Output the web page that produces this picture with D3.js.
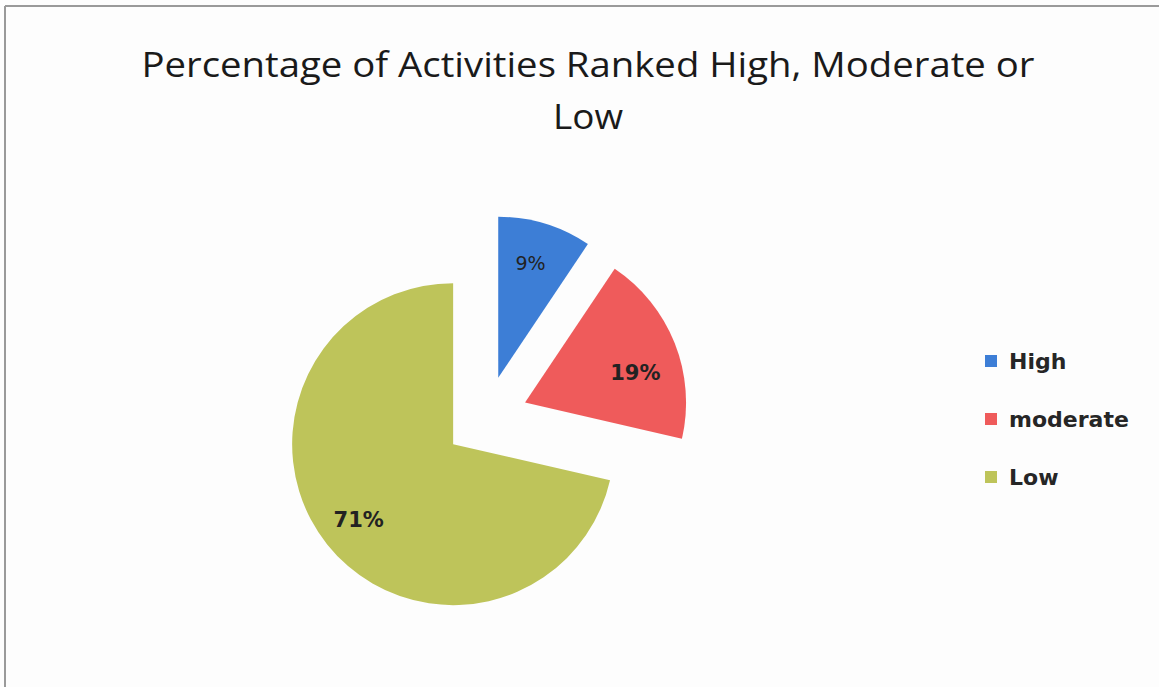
<!DOCTYPE html>
<html>
<head>
<meta charset="utf-8">
<script src="https://cdn.jsdelivr.net/npm/d3@7"></script>
<style>
  html, body { margin: 0; padding: 0; background: #fdfdfd; }
  svg { display: block; }
</style>
</head>
<body>
<svg id="chart" width="1159" height="687"></svg>
<script>
const categories = ["High", "moderate", "Low"];
const values = [9.4, 19.2, 71.4];
const colors = ["#3d7ed6", "#ef5b5b", "#bec45a"];
const titleLines = ["Percentage of Activities Ranked High, Moderate or", "Low"];

const svg = d3.select("#chart");
const W = 1159, H = 687;

// frame (scanned border on left and top)
svg.append("rect").attr("x", 0).attr("y", 0).attr("width", W).attr("height", H).attr("fill", "#fdfdfd");
svg.append("line").attr("x1", 5).attr("y1", 6).attr("x2", W).attr("y2", 6).attr("stroke", "#9a9a9a").attr("stroke-width", 2);
svg.append("line").attr("x1", 5).attr("y1", 6).attr("x2", 5).attr("y2", H).attr("stroke", "#9a9a9a").attr("stroke-width", 2);

// title
const title = svg.append("g").attr("font-family", "'Open Sans', 'Liberation Sans', sans-serif")
  .attr("font-weight", 500).attr("fill", "#1a1a1a");
title.append("text").attr("x", 588).attr("y", 77).attr("text-anchor", "middle")
  .attr("font-size", 35).attr("textLength", 893).attr("lengthAdjust", "spacingAndGlyphs")
  .text(titleLines[0]);
title.append("text").attr("x", 588).attr("y", 129).attr("text-anchor", "middle")
  .attr("font-size", 35).attr("textLength", 70).attr("lengthAdjust", "spacingAndGlyphs")
  .text(titleLines[1]);

// pie
const cx = 486, cy = 418, R = 161, explode = 42;
const pie = d3.pie().sort(null).value(d => d)(values);
const arc = d3.arc().innerRadius(0).outerRadius(R);
const g = svg.append("g").attr("transform", `translate(${cx},${cy})`);

const slices = g.selectAll("g.slice").data(pie).join("g").attr("class", "slice")
  .attr("transform", d => {
    const a = (d.startAngle + d.endAngle) / 2;
    return `translate(${explode * Math.sin(a)},${-explode * Math.cos(a)})`;
  });
slices.append("path").attr("d", arc).attr("fill", (d, i) => colors[i]);

// label radius (fraction of R) and angular shift (radians) per slice
const labelRadius = [0.74, 0.71, 0.75];
const labelShift = [-0.02, 0.11, 0.0];
const labelSize = [19, 21, 21];
const labelWeight = ["normal", "bold", "bold"];
slices.append("text")
  .attr("transform", (d, i) => {
    const a = (d.startAngle + d.endAngle) / 2 + labelShift[i];
    const r = R * labelRadius[i];
    return `translate(${r * Math.sin(a)},${-r * Math.cos(a)})`;
  })
  .attr("text-anchor", "middle").attr("dy", "0.35em")
  .attr("font-family", "'DejaVu Sans', sans-serif")
  .attr("font-size", (d, i) => labelSize[i])
  .attr("font-weight", (d, i) => labelWeight[i])
  .attr("fill", "#222")
  .text(d => Math.round(d.value) + "%");

// legend
const leg = svg.append("g").attr("transform", "translate(985,0)");
const legY = d3.scalePoint().domain(categories).range([361, 477]);
const items = leg.selectAll("g").data(categories).join("g")
  .attr("transform", d => `translate(0,${legY(d)})`);
items.append("rect").attr("x", 0).attr("y", -6).attr("width", 12).attr("height", 12)
  .attr("fill", (d, i) => colors[i]);
items.append("text").attr("x", 24).attr("y", 0).attr("dy", "0.35em")
  .attr("font-family", "'DejaVu Sans', sans-serif").attr("font-size", 22).attr("font-weight", "bold")
  .attr("fill", "#262626").text(d => d);
</script>
</body>
</html>
